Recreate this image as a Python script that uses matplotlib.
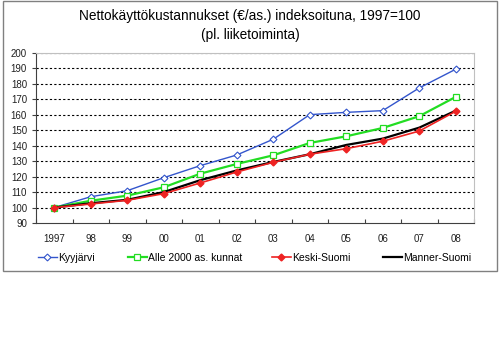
import matplotlib
matplotlib.use("Agg")
from matplotlib import pyplot as plt
from matplotlib.patches import Rectangle

plt.rcParams['font.family'] = ['Liberation Sans', 'DejaVu Sans']

years = ['1997', '98', '99', '00', '01', '02', '03', '04', '05', '06', '07', '08']
kyyjarvi = [100, 107.0, 110.9, 119.3, 127.1, 134.0, 144.2, 160.1, 161.6, 162.7, 177.4, 189.5]
alle2000 = [100, 104.4, 107.7, 113.1, 121.9, 128.2, 133.8, 141.8, 146.1, 151.5, 159.1, 171.6]
keski = [100, 102.3, 104.7, 109.0, 115.9, 123.0, 129.3, 134.5, 138.1, 142.9, 149.5, 162.3]
manner = [100, 102.8, 105.0, 110.0, 117.7, 124.0, 129.5, 134.5, 140.5, 144.6, 151.7, 162.7]

fig = plt.figure(figsize=(5.0, 3.43), dpi=100)
W, H = 500.0, 343.0

# outer chart frame
fig.patches.append(Rectangle((3 / W, 1 - 271 / H), 494 / W, 270 / H, transform=fig.transFigure,
                             fill=False, edgecolor='#808080', linewidth=1.0))

ax = fig.add_axes([36 / W, 1 - 223 / H, 438 / W, 170 / H])
x = list(range(len(years)))

l1, = ax.plot(x, kyyjarvi, color='#3355cc', lw=1.0, marker='D', ms=3.5, mfc='white', mec='#3355cc',
              mew=0.8, label='Kyyjärvi')
l2, = ax.plot(x, alle2000, color='#22dd22', lw=1.6, marker='s', ms=4, mfc='white', mec='#22dd22',
              mew=0.9, label='Alle 2000 as. kunnat')
l4, = ax.plot(x, manner, color='black', lw=1.6, label='Manner-Suomi', zorder=2)
l3, = ax.plot(x, keski, color='#ee2222', lw=1.2, marker='D', ms=3.5, mfc='#ee2222', mec='#ee2222',
              label='Keski-Suomi', zorder=3)

ax.set_xlim(-0.5, len(years) - 0.5)
ax.set_ylim(90, 200)
ax.set_yticks(range(90, 201, 10))
ax.set_xticks([i + 0.5 for i in range(-1, len(years))], minor=False)
ax.set_xticklabels([])
ax.set_xticks(x, minor=True)
ax.set_xticklabels(years, minor=True)
ax.tick_params(axis='x', which='major', length=3, direction='in', color='#404040')
ax.tick_params(axis='x', which='minor', length=0, pad=8, labelsize=7, labelcolor='#202020')
ax.tick_params(axis='y', length=3, direction='out', labelsize=7, labelcolor='#202020', color='#404040')

for yv in range(100, 201, 10):
    ax.axhline(yv, color='black', lw=0.8, ls=(0, (2, 2)), zorder=0)

for s in ['top', 'right']:
    ax.spines[s].set_color('#c0c0c0')
    ax.spines[s].set_linewidth(0.8)
for s in ['left', 'bottom']:
    ax.spines[s].set_color('#404040')
    ax.spines[s].set_linewidth(0.8)

fig.text(0.5, 1 - 16 / H, 'Nettokäyttökustannukset (€/as.) indeksoituna, 1997=100',
         ha='center', va='center', fontsize=9.8)
fig.text(0.5, 1 - 35 / H, '(pl. liiketoiminta)', ha='center', va='center', fontsize=9.8)

# legend entries placed one by one, like the spread-out Excel legend
for line, xpix in [(l1, 38), (l2, 128), (l3, 272), (l4, 383)]:
    fig.legend([line], [line.get_label()], loc='center left',
               bbox_to_anchor=(xpix / W, 1 - 258 / H), frameon=False, fontsize=7.5,
               handlelength=1.8, handletextpad=0.1, borderpad=0, borderaxespad=0)

fig.savefig('out.png', dpi=100)
